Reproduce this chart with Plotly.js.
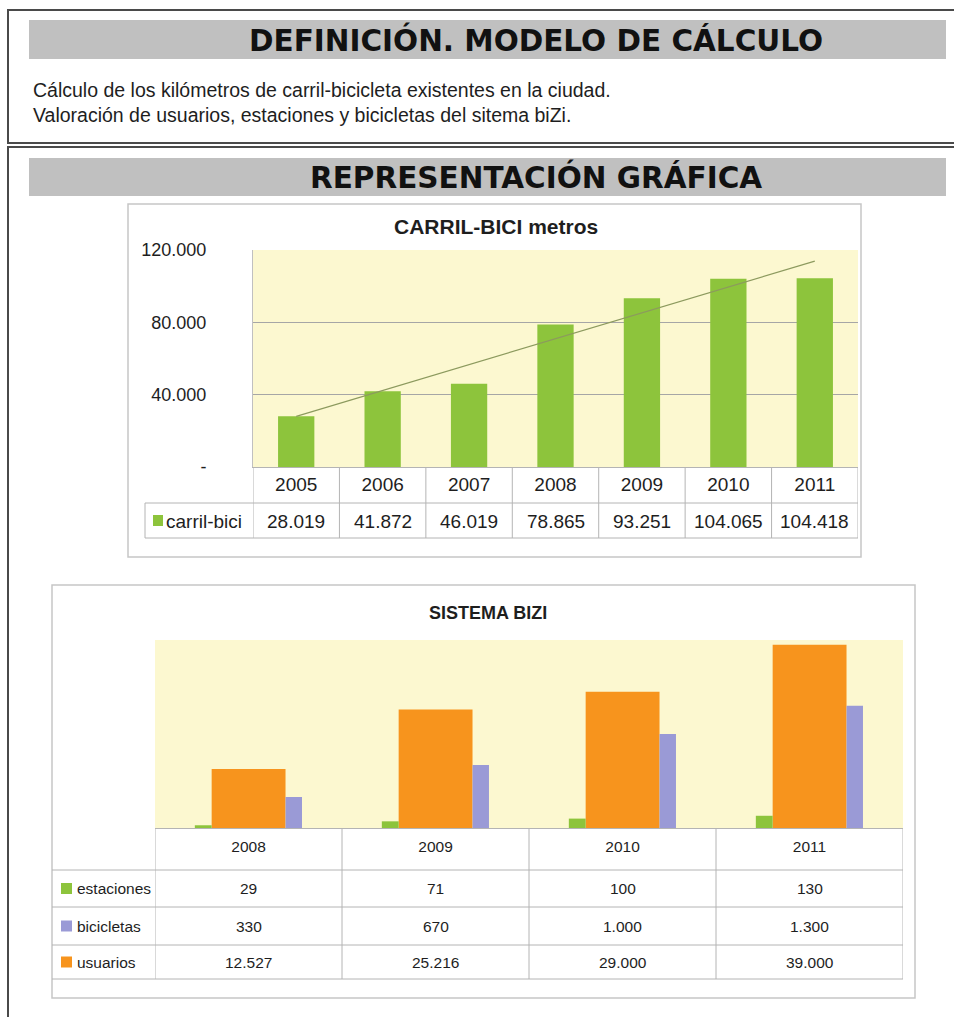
<!DOCTYPE html>
<html>
<head>
<meta charset="utf-8">
<script src="https://cdn.plot.ly/plotly-3.0.1.min.js"></script>
<style>
  html, body { margin: 0; padding: 0; background: #ffffff; }
  #chart { width: 954px; height: 1017px; }
</style>
</head>
<body>
<div id="chart"></div>
<script>
// ---------- DATA ----------
const headerTitle1 = 'DEFINICIÓN. MODELO DE CÁLCULO';
const headerTitle2 = 'REPRESENTACIÓN GRÁFICA';
const bodyLines = [
  'Cálculo de los kilómetros de carril-bicicleta existentes en la ciudad.',
  'Valoración de usuarios, estaciones y bicicletas del sitema biZi.'
];

const chart1Title = 'CARRIL-BICI metros';
const years1 = ['2005', '2006', '2007', '2008', '2009', '2010', '2011'];
const carrilBici = [28019, 41872, 46019, 78865, 93251, 104065, 104418];
const series1Name = 'carril-bici';
const yTickVals1 = [0, 40000, 80000, 120000];
const yTickText1 = ['-', '40.000', '80.000', '120.000'];

const chart2Title = 'SISTEMA BIZI';
const years2 = ['2008', '2009', '2010', '2011'];
const estaciones = [29, 71, 100, 130];
const bicicletas = [330, 670, 1000, 1300];
const usuarios = [12527, 25216, 29000, 39000];
const series2Names = ['estaciones', 'bicicletas', 'usuarios'];

// ---------- STYLE ----------
const W = 954, H = 1017;
const NARROW = '"Liberation Sans Narrow", "Arial Narrow", "Liberation Sans", sans-serif';
const ARIAL = '"Liberation Sans", Arial, sans-serif';
const HEAD = '"DejaVu Sans", Verdana, sans-serif';
const GREEN = '#8dc43c';
const ORANGE = '#f7941d';
const PURPLE = '#9a9ad6';
const YELLOW = '#fcf8d0';
const TXT = '#1e1e1e';
const TABLE_LINE = '#b4b4b4';

function px(x) { return x / W; }
function py(y) { return 1 - y / H; }
function fmt(v) { return String(v).replace(/\B(?=(\d{3})+(?!\d))/g, '.'); }

// linear trendline (least squares) from carrilBici
function trend(vals) {
  const n = vals.length;
  let sx = 0, sy = 0, sxx = 0, sxy = 0;
  vals.forEach((v, i) => { sx += i; sy += v; sxx += i * i; sxy += i * v; });
  const b = (n * sxy - sx * sy) / (n * sxx - sx * sx);
  const a = (sy - b * sx) / n;
  return vals.map((v, i) => a + b * i);
}

// ---------- TRACES ----------
const traces = [
  {
    type: 'bar', x: years1, y: carrilBici, name: series1Name,
    xaxis: 'x', yaxis: 'y', width: 0.42,
    marker: { color: GREEN, line: { width: 0 } }, hoverinfo: 'x+y'
  },
  {
    type: 'scatter', mode: 'lines', x: years1, y: trend(carrilBici),
    xaxis: 'x', yaxis: 'y', line: { color: '#8c9a5e', width: 1.2 }, hoverinfo: 'skip'
  },
  {
    type: 'bar', x: years2, y: usuarios, name: series2Names[2],
    xaxis: 'x2', yaxis: 'y2', width: 0.395, offset: -0.197,
    marker: { color: ORANGE, line: { width: 0 } }
  },
  {
    type: 'bar', x: years2, y: estaciones, name: series2Names[0],
    xaxis: 'x2', yaxis: 'y3', width: 0.09, offset: -0.287,
    marker: { color: GREEN, line: { width: 0 } }
  },
  {
    type: 'bar', x: years2, y: bicicletas, name: series2Names[1],
    xaxis: 'x2', yaxis: 'y3', width: 0.088, offset: 0.198,
    marker: { color: PURPLE, line: { width: 0 } }
  }
];

// ---------- SHAPES ----------
const shapes = [];
function rect(x0, y0, x1, y1, opts) {
  shapes.push(Object.assign({
    type: 'rect', xref: 'paper', yref: 'paper',
    x0: px(x0), x1: px(x1), y0: py(y0), y1: py(y1)
  }, opts));
}
function hline(x0, x1, y, color, w) {
  shapes.push({ type: 'line', xref: 'paper', yref: 'paper', x0: px(x0), x1: px(x1), y0: py(y), y1: py(y),
    line: { color: color || TABLE_LINE, width: w || 1 }, layer: 'above' });
}
function vlineCat(xaxisRef, xval, y0, y1) {
  shapes.push({ type: 'line', xref: xaxisRef, yref: 'paper', x0: xval, x1: xval, y0: py(y0), y1: py(y1),
    line: { color: TABLE_LINE, width: 1 }, layer: 'above' });
}
function vlinePx(x, y0, y1, color) {
  shapes.push({ type: 'line', xref: 'paper', yref: 'paper', x0: px(x), x1: px(x), y0: py(y0), y1: py(y1),
    line: { color: color || TABLE_LINE, width: 1 }, layer: 'above' });
}

// outer document boxes
rect(8, 10, 975, 143, { line: { color: '#4a4a4a', width: 2 }, fillcolor: 'rgba(0,0,0,0)', layer: 'below' });
rect(8, 147, 975, 1040, { line: { color: '#4a4a4a', width: 2 }, fillcolor: 'rgba(0,0,0,0)', layer: 'below' });
// grey header bars
rect(29, 20, 946, 59, { line: { width: 0 }, fillcolor: '#c0c0c0', layer: 'below' });
rect(29, 158, 946, 196, { line: { width: 0 }, fillcolor: '#c0c0c0', layer: 'below' });
// chart frames
rect(128, 204, 861, 557, { line: { color: '#c6c6c6', width: 1.5 }, fillcolor: 'rgba(0,0,0,0)', layer: 'below' });
rect(52, 585, 915, 998, { line: { color: '#c6c6c6', width: 1.5 }, fillcolor: 'rgba(0,0,0,0)', layer: 'below' });

// table 1 grid
for (let i = 0; i <= years1.length; i++) vlineCat('x', i - 0.5, 467, 538);
hline(145, 858, 503);
hline(145, 858, 538);
vlinePx(145, 503, 538);
// legend key chart 1
rect(153, 515, 163, 526, { line: { width: 0 }, fillcolor: GREEN, layer: 'above' });

// table 2 grid
for (let i = 0; i <= years2.length; i++) vlineCat('x2', i - 0.5, 828, 979);
[870, 907, 945, 979].forEach(y => hline(52, 903, y));
const rowY2 = [888.5, 926, 962];
const keyColors2 = [GREEN, PURPLE, ORANGE];
rowY2.forEach((y, k) => rect(61, y - 5.5, 72, y + 5.5, { line: { width: 0 }, fillcolor: keyColors2[k], layer: 'above' }));

// ---------- ANNOTATIONS ----------
const annotations = [];
function textAt(x, y, text, font, xanchor) {
  annotations.push({ xref: 'paper', yref: 'paper', x: px(x), y: py(y), text: text, showarrow: false,
    xanchor: xanchor || 'center', yanchor: 'middle', font: font });
}
textAt(535.5, 40, '<b>' + headerTitle1 + '</b>', { family: HEAD, size: 29.5, color: '#111' });
textAt(535.5, 177, '<b>' + headerTitle2 + '</b>', { family: HEAD, size: 29.5, color: '#111' });
textAt(31, 90, bodyLines[0], { family: NARROW, size: 19.5, color: TXT }, 'left');
textAt(31, 115, bodyLines[1], { family: NARROW, size: 19.5, color: TXT }, 'left');
textAt(496, 227, '<b>' + chart1Title + '</b>', { family: ARIAL, size: 21, color: TXT });
textAt(488, 613, '<b>' + chart2Title + '</b>', { family: NARROW, size: 18, color: TXT });

// table 1 row (x = category index on the category axis)
textAt(164, 521, series1Name, { family: ARIAL, size: 19, color: TXT }, 'left');
carrilBici.forEach((v, i) => annotations.push({
  xref: 'x', yref: 'paper', x: i, y: py(521), text: fmt(v), showarrow: false,
  xanchor: 'center', yanchor: 'middle', font: { family: ARIAL, size: 19, color: TXT }
}));

// table 2 rows
const rows2 = [estaciones, bicicletas, usuarios];
rows2.forEach((arr, k) => {
  textAt(75, rowY2[k], series2Names[k], { family: NARROW, size: 15.5, color: TXT }, 'left');
  arr.forEach((v, i) => annotations.push({
    xref: 'x2', yref: 'paper', x: i, y: py(rowY2[k]), text: fmt(v), showarrow: false,
    xanchor: 'center', yanchor: 'middle', font: { family: NARROW, size: 15.5, color: TXT }
  }));
});

// ---------- LAYOUT ----------
const layout = {
  width: W, height: H, autosize: false,
  margin: { l: 0, r: 0, t: 0, b: 0, pad: 0 },
  paper_bgcolor: '#ffffff', plot_bgcolor: YELLOW,
  showlegend: false, barmode: 'overlay', separators: ',.',
  xaxis: {
    domain: [px(253), px(858)], anchor: 'y', type: 'category',
    range: [-0.5, years1.length - 0.5],
    showgrid: false, zeroline: false, showline: true, linecolor: TABLE_LINE, linewidth: 1,
    ticks: '', ticklabelstandoff: 0,
    tickfont: { family: ARIAL, size: 19, color: TXT }, fixedrange: true
  },
  yaxis: {
    domain: [py(467), py(250)], anchor: 'x', range: [0, 120000],
    tickvals: yTickVals1, ticktext: yTickText1,
    showgrid: true, gridcolor: '#a6a6a6', gridwidth: 1,
    zeroline: false, showline: true, linecolor: '#c0c0c0', linewidth: 1,
    ticks: '', ticklabelstandoff: 42,
    tickfont: { family: ARIAL, size: 18, color: TXT }, fixedrange: true
  },
  xaxis2: {
    domain: [px(155), px(903)], anchor: 'y2', type: 'category',
    range: [-0.5, years2.length - 0.5],
    showgrid: false, zeroline: false, showline: true, linecolor: TABLE_LINE, linewidth: 1,
    ticks: '', ticklabelstandoff: 4,
    tickfont: { family: NARROW, size: 15.5, color: TXT }, fixedrange: true
  },
  yaxis2: {
    domain: [py(828), py(640)], anchor: 'x2', range: [0, 40000],
    showgrid: false, zeroline: false, showline: false, showticklabels: false, ticks: '', fixedrange: true
  },
  yaxis3: {
    overlaying: 'y2', anchor: 'x2', side: 'right', range: [0, 2000],
    showgrid: false, zeroline: false, showline: false, showticklabels: false, ticks: '', fixedrange: true
  },
  shapes: shapes,
  annotations: annotations
};

Plotly.newPlot('chart', traces, layout, { displayModeBar: false, staticPlot: true });
</script>
</body>
</html>
